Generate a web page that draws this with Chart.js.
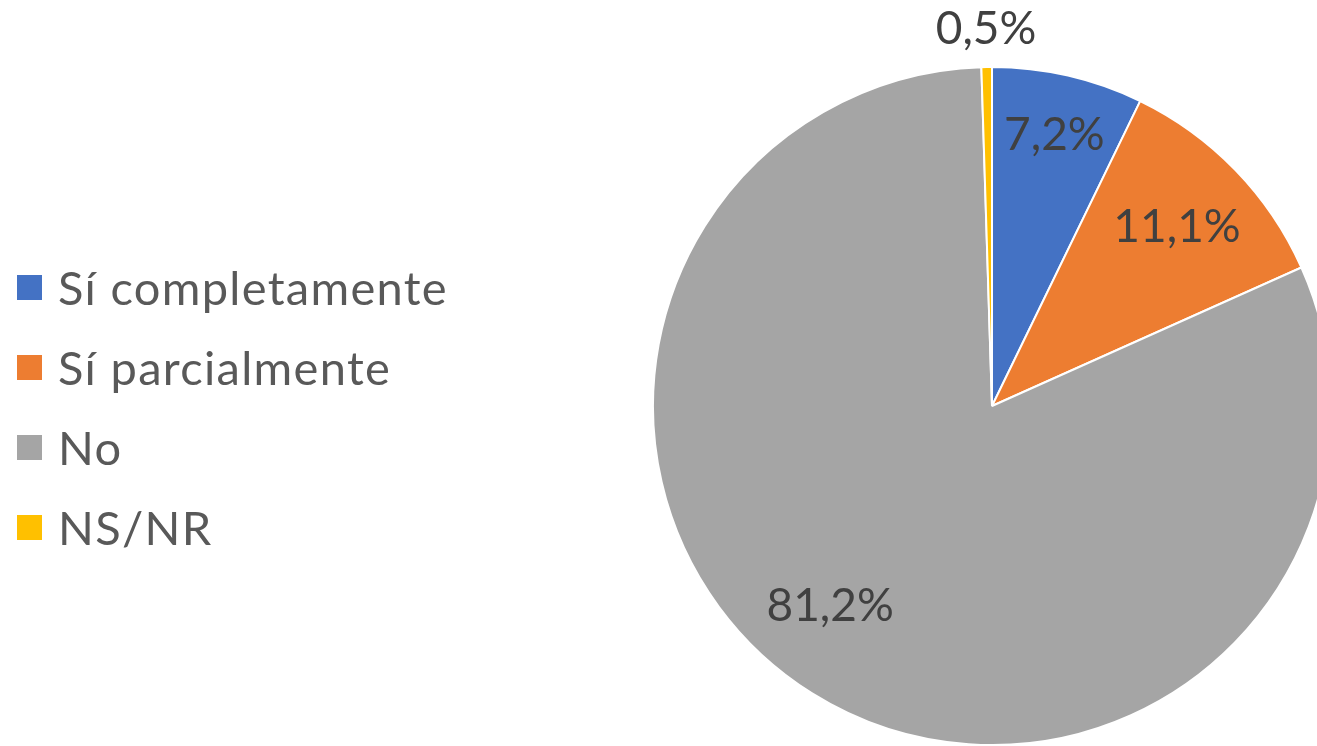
<!DOCTYPE html>
<html>
<head>
<meta charset="utf-8">
<script src="https://cdn.jsdelivr.net/npm/chart.js@4/dist/chart.umd.min.js"></script>
<style>
	html, body { margin: 0; padding: 0; background: #fff; overflow: hidden; }
	#wrap { position: relative; width: 1340px; height: 746px; }
	#pieChart { position: absolute; left: 0; top: 0; }
	#legend { position: absolute; left: 17px; top: 0; font-family: Lato, "Open Sans", sans-serif; font-size: 47px; letter-spacing: 1.3px; color: #595959; }
	#legend .item { position: absolute; left: 0; white-space: nowrap; height: 60px; line-height: 60px; }
	#legend .box { position: absolute; left: 0; top: 18px; width: 25px; height: 25px; }
	#legend .txt { position: absolute; left: 41px; top: 0; }
</style>
</head>
<body>
<div id="wrap">
	<canvas id="pieChart" width="1340" height="746"></canvas>
	<div id="legend"></div>
</div>
<script>
const categories = ["Sí completamente", "Sí parcialmente", "No", "NS/NR"];
const values = [7.2, 11.1, 81.2, 0.5];
const colors = ["#4472C4", "#ED7D31", "#A5A5A5", "#FFC000"];

function fmt(v) {
	return v.toFixed(1).replace(".", ",") + "%";
}

// legend on the left
const legend = document.getElementById("legend");
categories.forEach(function (c, i) {
	const item = document.createElement("div");
	item.className = "item";
	item.style.top = (257 + i * 80) + "px";
	item.innerHTML = '<span class="box" style="background:' + colors[i] + '"></span><span class="txt">' + c + "</span>";
	legend.appendChild(item);
});

// percentage labels on the slices
const sliceLabels = {
	id: "sliceLabels",
	afterDatasetsDraw(chart) {
		const ctx = chart.ctx;
		const meta = chart.getDatasetMeta(0);
		ctx.save();
		ctx.font = "46px Lato, 'Open Sans', sans-serif";
		ctx.fillStyle = "#404040";
		ctx.textAlign = "center";
		ctx.textBaseline = "middle";
		meta.data.forEach(function (arc, i) {
			const v = values[i];
			const mid = (arc.startAngle + arc.endAngle) / 2;
			let r;
			if (v < 2) r = arc.outerRadius + 38;
			else if (v < 9) r = arc.outerRadius * 0.82;
			else r = arc.outerRadius * 0.76;
			let ang = mid;
			if (v > 50) ang = mid + 0.12;
			const x = arc.x + Math.cos(ang) * r;
			const y = arc.y + Math.sin(ang) * r;
			ctx.fillText(fmt(v), x, y);
		});
		ctx.restore();
	}
};

new Chart(document.getElementById("pieChart"), {
	type: "pie",
	data: {
		labels: categories,
		datasets: [
			{
				data: values,
				backgroundColor: colors,
				borderColor: "#ffffff",
				borderWidth: 2,
			},
		],
	},
	options: {
		responsive: false,
		animation: false,
		layout: {
			padding: { top: 66, bottom: -4, left: 650, right: 6 },
		},
		plugins: {
			legend: { display: false },
			tooltip: { enabled: false },
		},
	},
	plugins: [sliceLabels],
});
</script>
</body>
</html>
